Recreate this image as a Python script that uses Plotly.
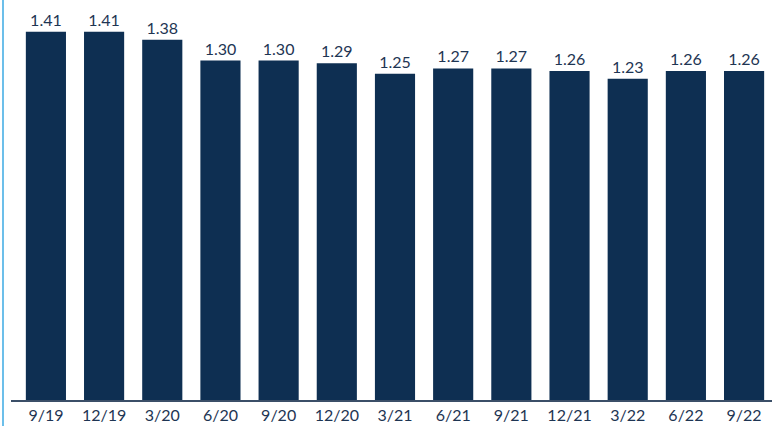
import plotly.graph_objects as go

categories = ["9/19", "12/19", "3/20", "6/20", "9/20", "12/20", "3/21",
              "6/21", "9/21", "12/21", "3/22", "6/22", "9/22"]
values = [1.41, 1.41, 1.38, 1.30, 1.30, 1.29, 1.25, 1.27, 1.27, 1.26, 1.23, 1.26, 1.26]
labels = [f"{v:.2f}" for v in values]

navy = "#0e2f52"
text_color = "#1e3553"
font_family = "Source Sans Pro, Lato, Noto Sans, sans-serif"

fig = go.Figure(go.Bar(
    x=categories, y=values, text=labels, textposition="outside",
    marker=dict(color=navy, line=dict(width=0)),
    textfont=dict(color=text_color, size=16, family=font_family),
    cliponaxis=False,
))

W, H = 772, 426
l, r, t, b = 11, 0, 0, 26
fig.update_layout(
    width=W, height=H,
    margin=dict(l=l, r=r, t=t, b=b),
    paper_bgcolor="white", plot_bgcolor="white",
    bargap=0.31,
    showlegend=False,
    xaxis=dict(
        range=[-0.6, 12.48], showgrid=False, zeroline=False,
        showline=True, linecolor="#3b4f68", linewidth=1.5,
        ticks="", tickfont=dict(color=text_color, size=16, family=font_family),
    ),
    yaxis=dict(range=[0, 1.532], visible=False, showgrid=False, zeroline=False),
    shapes=[dict(type="line", xref="paper", yref="paper",
                 x0=(3 - l) / (W - l - r), x1=(3 - l) / (W - l - r),
                 y0=-b / (H - t - b), y1=1.0,
                 line=dict(color="#6cbfea", width=2))],
)

fig.write_html("out.html", config={"displayModeBar": False})

with open("out.html", "r", encoding="utf-8") as f:
    html = f.read()
html = html.replace("<body>", '<body style="margin:0;padding:0;overflow:hidden">', 1)
with open("out.html", "w", encoding="utf-8") as f:
    f.write(html)
